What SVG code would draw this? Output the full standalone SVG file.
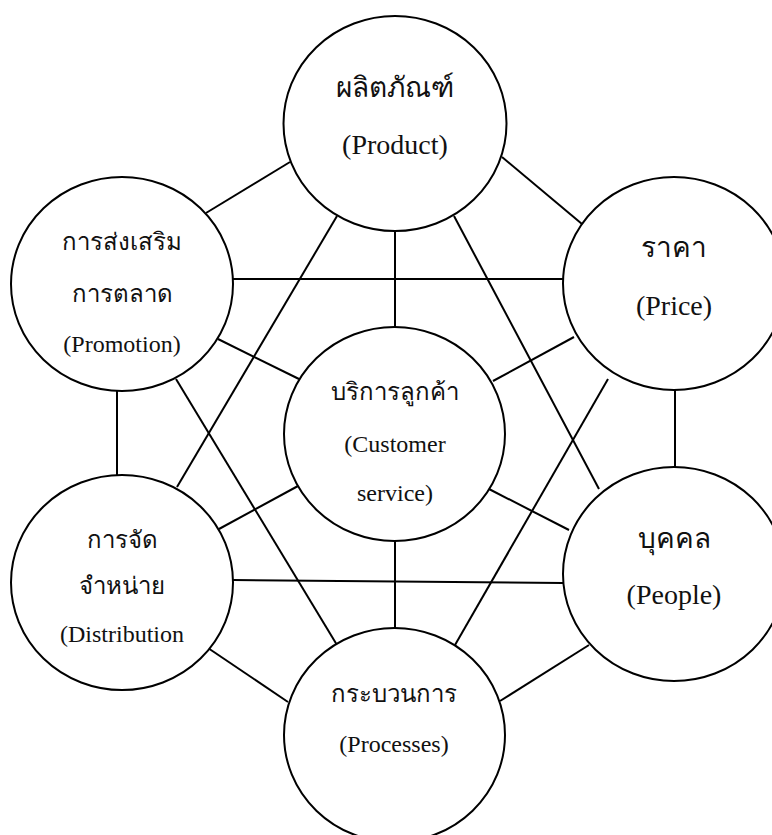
<svg xmlns="http://www.w3.org/2000/svg" width="772" height="835" viewBox="0 0 772 835">
  <style>
    .node { fill: #ffffff; stroke: #000000; stroke-width: 2; }
    .link { stroke: #000000; stroke-width: 2; fill: none; }
    text { font-family: "Liberation Serif", "Times New Roman", serif; fill: #111111; text-anchor: middle; }
    .lg { font-size: 28px; }
    .sm { font-size: 24px; }
  </style>
  <rect width="772" height="835" fill="#ffffff"/>

  <!-- connectors between the seven elements -->
  <g id="connectors">
    <line class="link" x1="290" y1="162" x2="206" y2="213"/>
    <line class="link" x1="502" y1="157" x2="582" y2="224"/>
    <line class="link" x1="395" y1="231" x2="395" y2="327"/>
    <line class="link" x1="337" y1="216" x2="177" y2="487"/>
    <line class="link" x1="454" y1="216" x2="599" y2="489"/>
    <line class="link" x1="233" y1="279" x2="563" y2="279"/>
    <line class="link" x1="218" y1="339" x2="299" y2="379"/>
    <line class="link" x1="117" y1="391" x2="117" y2="476"/>
    <line class="link" x1="176" y1="379" x2="337" y2="645"/>
    <line class="link" x1="574" y1="337" x2="493" y2="381"/>
    <line class="link" x1="675" y1="390" x2="675" y2="467"/>
    <line class="link" x1="608" y1="379" x2="455" y2="645"/>
    <line class="link" x1="298" y1="486" x2="219" y2="529"/>
    <line class="link" x1="489" y1="489" x2="569" y2="530"/>
    <line class="link" x1="395" y1="541" x2="395" y2="628"/>
    <line class="link" x1="233" y1="580" x2="563" y2="583"/>
    <line class="link" x1="208" y1="648" x2="288" y2="702"/>
    <line class="link" x1="589" y1="645" x2="500" y2="701"/>
  </g>

  <g id="product">
    <ellipse class="node" cx="395" cy="123.5" rx="111.5" ry="107.5"/>
    <text class="lg" x="395" y="97">ผลิตภัณฑ์</text>
    <text class="lg" x="395" y="154">(Product)</text>
  </g>

  <g id="promotion">
    <ellipse class="node" cx="122" cy="284" rx="111" ry="107"/>
    <text class="sm" x="122" y="250">การส่งเสริม</text>
    <text class="sm" x="122" y="302">การตลาด</text>
    <text class="sm" x="122" y="352">(Promotion)</text>
  </g>

  <g id="price">
    <ellipse class="node" cx="674" cy="283.5" rx="111" ry="106.5"/>
    <text class="lg" x="674" y="257">ราคา</text>
    <text class="lg" x="674" y="315">(Price)</text>
  </g>

  <g id="customer-service">
    <ellipse class="node" cx="394.5" cy="434" rx="110.5" ry="107"/>
    <text class="sm" x="395" y="400">บริการลูกค้า</text>
    <text class="sm" x="395" y="452">(Customer</text>
    <text class="sm" x="395" y="501">service)</text>
  </g>

  <g id="distribution">
    <ellipse class="node" cx="122" cy="582.5" rx="111" ry="107.5"/>
    <text class="sm" x="122" y="548">การจัด</text>
    <text class="sm" x="122" y="594">จำหน่าย</text>
    <text class="sm" x="122" y="642">(Distribution</text>
  </g>

  <g id="people">
    <ellipse class="node" cx="674" cy="574" rx="111" ry="107"/>
    <text class="lg" x="674" y="548">บุคคล</text>
    <text class="lg" x="674" y="604">(People)</text>
  </g>

  <g id="processes">
    <ellipse class="node" cx="394.5" cy="735" rx="110.5" ry="107"/>
    <text class="sm" x="394" y="702">กระบวนการ</text>
    <text class="sm" x="394" y="752">(Processes)</text>
  </g>
</svg>
